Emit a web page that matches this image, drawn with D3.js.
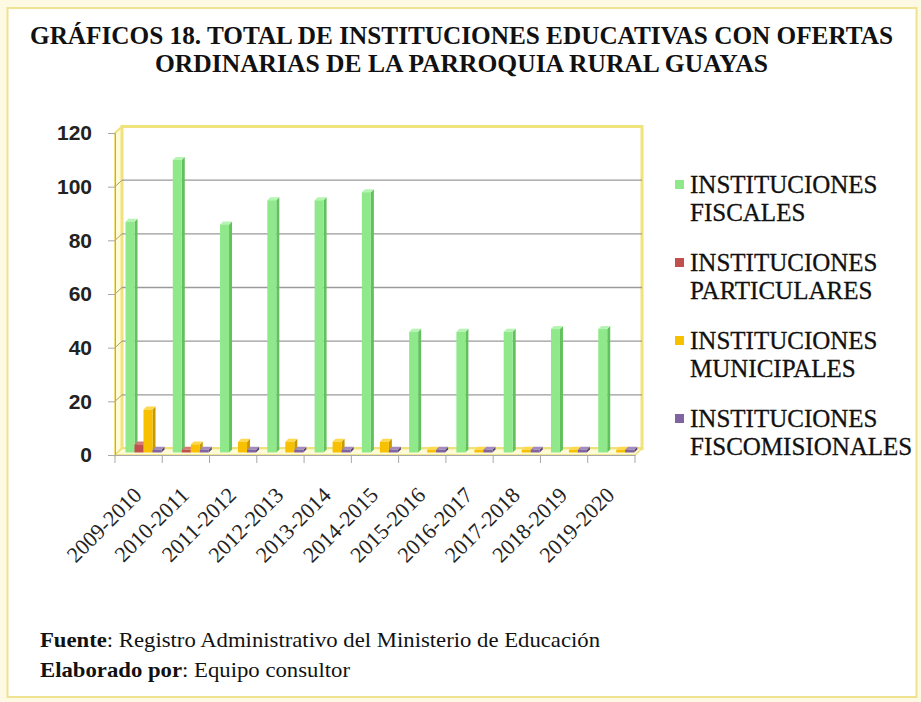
<!DOCTYPE html>
<html>
<head>
<meta charset="utf-8">
<script src="https://cdn.jsdelivr.net/npm/d3@7"></script>
<style>
  html, body { margin: 0; padding: 0; background: #fdf9e2; }
  svg { display: block; }
</style>
</head>
<body>
<script>
// ---------------- DATA ----------------
const categories = ["2009-2010","2010-2011","2011-2012","2012-2013","2013-2014","2014-2015","2015-2016","2016-2017","2017-2018","2018-2019","2019-2020"];
const fiscales        = [86, 109, 85, 94, 94, 97, 45, 45, 45, 46, 46];
const particulares    = [3, 1, 0, 0, 0, 0, 0, 0, 0, 0, 0];
const municipales     = [16, 3, 4, 4, 4, 4, 1, 1, 1, 1, 1];
const fiscomisionales = [1, 1, 1, 1, 1, 1, 1, 1, 1, 1, 1];
const seriesNames = [["INSTITUCIONES","FISCALES"],["INSTITUCIONES","PARTICULARES"],["INSTITUCIONES","MUNICIPALES"],["INSTITUCIONES","FISCOMISIONALES"]];
const yTicks = [0, 20, 40, 60, 80, 100, 120];
const titleLines = ["GRÁFICOS 18. TOTAL DE INSTITUCIONES EDUCATIVAS CON OFERTAS","ORDINARIAS DE LA PARROQUIA RURAL GUAYAS"];

const seriesValues = [fiscales, particulares, municipales, fiscomisionales];
const colors = ["#8fe98b", "#c0504d", "#f7c000", "#8064a2"];
const sideColors = ["#62c05e", "#8c3431", "#c99a00", "#5a447a"];
const topColors = ["#b5f5b2", "#d77a77", "#ffd84d", "#a28bc0"];

// ---------------- SETUP ----------------
const W = 921, H = 702;
const svg = d3.select("body").append("svg").attr("width", W).attr("height", H);

svg.append("rect").attr("x", 0).attr("y", 0).attr("width", W).attr("height", H).attr("fill", "#fdf9e2");
svg.append("rect").attr("x", 7.5).attr("y", 8).attr("width", 909).attr("height", 689)
  .attr("fill", "#ffffff").attr("stroke", "#efe290").attr("stroke-width", 2);

const serif = "'Liberation Serif','Times New Roman',serif";
const sans = "'Liberation Sans',Arial,sans-serif";

// Title
const tSpec = [{y: 44, x0: 30, x1: 893}, {y: 72, x0: 155, x1: 768}];
titleLines.forEach((t, i) => {
  svg.append("text").attr("x", tSpec[i].x0).attr("y", tSpec[i].y)
    .attr("font-family", serif).attr("font-weight", "bold").attr("font-size", 26)
    .attr("textLength", tSpec[i].x1 - tSpec[i].x0).attr("lengthAdjust", "spacingAndGlyphs")
    .attr("fill", "#111").text(t);
});

// Scales
const x0 = 115, x1 = 635, dx = 7, dy = -6.5;
const xScale = d3.scaleBand().domain(categories).range([x0, x1]).padding(0);
const y = d3.scaleLinear().domain([0, 120]).range([455, 133]);
const yBar = d3.scaleLinear().domain([0, 120]).range([452.5, 130.5]);

const plot = svg.append("g");

// Side wall (left)
plot.append("path")
  .attr("d", `M${x0},${y(0)} L${x0},${y(120)} L${x0+dx},${y(120)+dy} L${x0+dx},${y(0)+dy} Z`)
  .attr("fill", "#fffbd6").attr("stroke", "#efe07a").attr("stroke-width", 2);
// Back wall
plot.append("rect").attr("x", x0 + dx).attr("y", y(120) + dy)
  .attr("width", x1 - x0 + 0).attr("height", y(0) - y(120))
  .attr("fill", "#ffffff").attr("stroke", "#f0e27c").attr("stroke-width", 3);
// Floor
plot.append("path")
  .attr("d", `M${x0},${y(0)} L${x1},${y(0)} L${x1+dx},${y(0)+dy} L${x0+dx},${y(0)+dy} Z`)
  .attr("fill", "#fffbd6").attr("stroke", "#efe07a").attr("stroke-width", 1.5);

// Gridlines
yTicks.filter(v => v > 0 && v < 120).forEach(v => {
  plot.append("line").attr("x1", x0 + dx).attr("x2", x1 + dx)
    .attr("y1", y(v) + dy).attr("y2", y(v) + dy)
    .attr("stroke", "#9a9a9a").attr("stroke-width", 1.3);
  plot.append("line").attr("x1", x0).attr("x2", x0 + dx)
    .attr("y1", y(v)).attr("y2", y(v) + dy)
    .attr("stroke", "#b0a060").attr("stroke-width", 1);
});

// Y axis
const yAxisG = svg.append("g").attr("transform", `translate(${x0},0)`)
  .call(d3.axisLeft(y).tickValues(yTicks).tickSize(7).tickPadding(16));
yAxisG.select(".domain").attr("stroke", "#a8a8a8");
yAxisG.selectAll(".tick line").attr("stroke", "#a8a8a8");
yAxisG.selectAll(".tick text").attr("font-family", sans).attr("font-weight", "bold")
  .attr("font-size", 21).attr("fill", "#222");

// Bars (3D-ish)
const bw = 9, bOff = 10.5, d = 3;
seriesValues.forEach((vals, si) => {
  const g = plot.append("g");
  vals.forEach((v, ci) => {
    if (v <= 0) return;
    const bx = xScale(categories[ci]) + bOff + si * bw;
    const top = yBar(v), base = yBar(0);
    g.append("path")
      .attr("d", `M${bx+bw},${top} L${bx+bw+d},${top-d} L${bx+bw+d},${base-d} L${bx+bw},${base} Z`)
      .attr("fill", sideColors[si]);
    g.append("path")
      .attr("d", `M${bx},${top} L${bx+d},${top-d} L${bx+bw+d},${top-d} L${bx+bw},${top} Z`)
      .attr("fill", topColors[si]);
    g.append("rect").attr("x", bx).attr("y", top).attr("width", bw).attr("height", base - top)
      .attr("fill", colors[si]);
  });
});

// X axis
const xAxisG = svg.append("g").attr("transform", `translate(0,${y(0)})`)
  .call(d3.axisBottom(xScale).tickSize(0).tickPadding(0));
xAxisG.select(".domain").attr("stroke", "#a8a8a8").attr("stroke-width", 1.2);
const bounds = categories.map(c => xScale(c)).concat([x1]);
bounds.forEach(bx => {
  xAxisG.append("line").attr("x1", bx).attr("x2", bx).attr("y1", 0).attr("y2", 8)
    .attr("stroke", "#a8a8a8");
});
xAxisG.selectAll(".tick text")
  .attr("font-family", serif).attr("font-size", 22).attr("fill", "#222")
  .attr("text-anchor", "end")
  .attr("transform", "translate(-1,36) rotate(-45)")
  .attr("dy", "0.35em");

// Legend
const legY = [185, 263, 341, 419];
seriesNames.forEach((nm, i) => {
  const g = svg.append("g");
  g.append("rect").attr("x", 675).attr("y", legY[i] - 5).attr("width", 9).attr("height", 9)
    .attr("fill", colors[i]);
  nm.forEach((ln, j) => {
    g.append("text").attr("x", 690).attr("y", legY[i] + j * 28 + 8)
      .attr("font-family", serif).attr("font-size", 25).attr("fill", "#111")
      .attr("stroke", "#111").attr("stroke-width", 0.3).text(ln);
  });
});

// Footer
const f1 = svg.append("text").attr("x", 40).attr("y", 647)
  .attr("font-family", serif).attr("font-size", 21).attr("fill", "#111")
  .attr("textLength", 560).attr("lengthAdjust", "spacingAndGlyphs");
f1.append("tspan").attr("font-weight", "bold").text("Fuente");
f1.append("tspan").text(": Registro  Administrativo del Ministerio de Educación");
const f2 = svg.append("text").attr("x", 40).attr("y", 677)
  .attr("font-family", serif).attr("font-size", 21).attr("fill", "#111")
  .attr("textLength", 310).attr("lengthAdjust", "spacingAndGlyphs");
f2.append("tspan").attr("font-weight", "bold").text("Elaborado por");
f2.append("tspan").text(": Equipo consultor");
</script>
</body>
</html>
